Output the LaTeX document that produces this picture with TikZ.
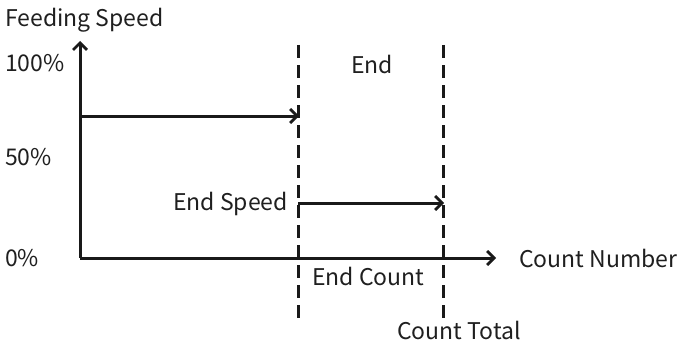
\documentclass[tikz,border=0pt]{standalone}
\usepackage{fontspec}
\setmainfont{Noto Sans CJK SC}
\usetikzlibrary{arrows.meta}
\begin{document}
\begin{tikzpicture}[x=1pt,y=-1pt,
  axis/.style={line width=3pt,draw=black!90,-{Straight Barb[length=7pt,width=14pt,line width=2.8pt]}},
  guide/.style={line width=3pt,draw=black!90,dash pattern=on 13pt off 7pt},
  lbl/.style={inner sep=0pt,font=\fontsize{23}{25}\selectfont,text=black!88}]
\useasboundingbox (0,0) rectangle (679,345);
\coordinate (O) at (80,258);
\coordinate (Ytop) at (80,41);
\coordinate (Xend) at (496,258);
\coordinate (A1) at (298,45);
\coordinate (A2) at (298,318);
\coordinate (B1) at (443,45);
\coordinate (B2) at (443,318);
\coordinate (S1) at (80,116);
\coordinate (S1e) at (299,116);
\coordinate (S2) at (298,203);
\coordinate (S2e) at (444,203);
\draw[guide] (A1) -- (A2);
\draw[guide] (B1) -- (B2);
\draw[axis] (O) -- (Ytop);
\draw[axis] (O) -- (Xend);
\draw[axis] (S1) -- (S1e);
\draw[axis] (S2) -- (S2e);
\node[lbl,anchor=west] (fs) at (5,20) {Feeding Speed};
\node[lbl,anchor=west] (p100) at (5,63) {100\%};
\node[lbl,anchor=west] (p50) at (5,157) {50\%};
\node[lbl,anchor=west] (p0) at (5,258) {0\%};
\node[lbl] (end) at (372,64) {End};
\node[lbl,anchor=east] (es) at (288,204) {End Speed};
\node[lbl,anchor=west] (ec) at (312,276) {End Count};
\node[lbl,anchor=west] (ct) at (397,330) {Count Total};
\node[lbl,anchor=west] (cn) at (519,258) {Count Number};
\end{tikzpicture}
\end{document}
